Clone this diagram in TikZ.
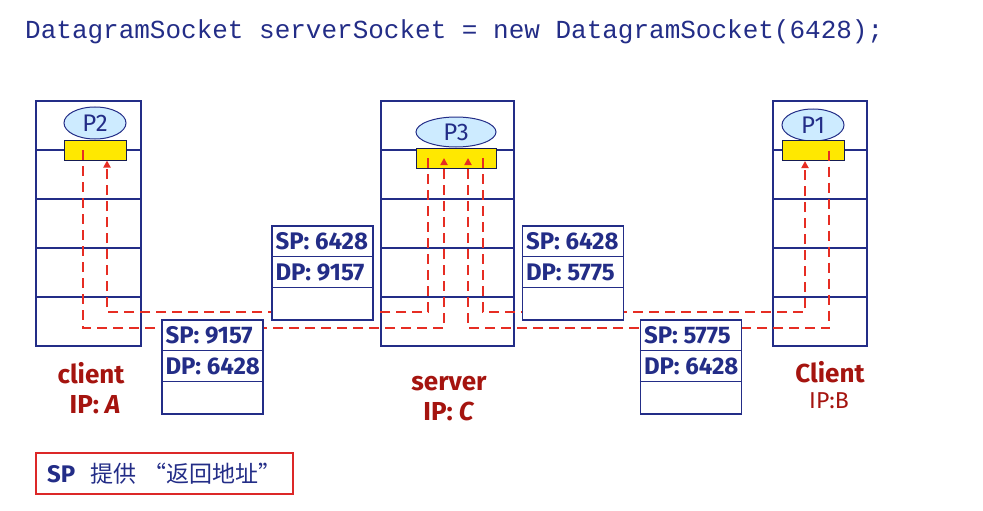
\documentclass[tikz,border=0pt]{standalone}
\usepackage{fontspec}
\setmainfont{Fira Sans}
\newfontfamily\codefont{Liberation Mono}
\newfontfamily\cjk{Noto Sans CJK SC}
\usetikzlibrary{shapes.geometric, arrows.meta, calc, positioning}
\definecolor{navy}{RGB}{35,45,135}
\definecolor{dashred}{RGB}{230,45,35}
\definecolor{labred}{RGB}{165,20,15}
\definecolor{notered}{RGB}{220,40,40}
\definecolor{sockyellow}{RGB}{255,232,0}
\definecolor{procblue}{RGB}{205,235,255}
\tikzset{
    x=1pt, y=-1pt,% one unit is one pixel of the slide, y grows downwards
    host/.style = {draw=navy, fill=white, line width=1.3pt, minimum height=245pt, inner sep=0pt}, % the protocol stack of a host
    layer/.style = {draw=navy, line width=1.3pt},
    proc/.style = {ellipse, draw=navy, fill=procblue, line width=1pt, inner sep=0pt,
                   text=navy, font=\fontsize{24}{26}\selectfont},
    sock/.style = {draw=navy!60!black, fill=sockyellow, line width=1pt, minimum height=20pt, inner sep=0pt}, % the socket below a process
    flow/.style = {dashred, line width=2pt, dash pattern=on 10pt off 6pt,
                   -{Triangle[width=7pt,length=7pt]}},
    packet/.style = {draw=navy, fill=white, line width=1.3pt, minimum width=101pt,
                     minimum height=94pt, inner sep=0pt},
    field/.style = {anchor=west, inner sep=0pt, text=navy, font=\bfseries\fontsize{24}{26}\selectfont},
    hostlabel/.style = {anchor=base, inner sep=0pt, text=labred, font=\bfseries\fontsize{26}{28}\selectfont}
}
% a segment with a header of two fields
\newcommand{\pkt}[4]{% name, centre, SP, DP
  \node[packet] (#1) at (#2) {};
  \draw[layer] ([yshift=-31pt]#1.north west) -- ([yshift=-31pt]#1.north east);
  \draw[layer] ([yshift=-62pt]#1.north west) -- ([yshift=-62pt]#1.north east);
  \node[field] at ([xshift=4pt,yshift=-16pt]#1.north west) {SP: #3};
  \node[field] at ([xshift=4pt,yshift=-47pt]#1.north west) {DP: #4};
}

\begin{document}
\begin{tikzpicture}
  \useasboundingbox (0,0) rectangle (983,511);
  \node[anchor=base west, inner sep=0pt, text=navy, font=\codefont\fontsize{26}{28}\selectfont]
    (code) at (25,39) {DatagramSocket serverSocket = new DatagramSocket(6428);};

  % hosts
  \node[host, minimum width=105pt] (hostA) at (88.5,223.5) {};
  \node[host, minimum width=133pt] (hostC) at (447.5,223.5) {};
  \node[host, minimum width=94pt] (hostB) at (820,223.5) {};
  \foreach \h in {hostA,hostC,hostB}
    \foreach \y in {150,199,248,297}
      \draw[layer] (\h.west |- 0,\y) -- (\h.east |- 0,\y);

  % processes and sockets
  \node[proc, minimum width=62pt, minimum height=32pt] (P2) at (95,123) {P2};
  \node[sock, minimum width=62pt] (sockA) at (95,150) {};
  \node[proc, minimum width=80pt, minimum height=30pt] (P3) at (456,132) {P3};
  \node[sock, minimum width=80pt] (sockC) at (456,158) {};
  \node[proc, minimum width=62pt, minimum height=32pt] (P1) at (813,125) {P1};
  \node[sock, minimum width=62pt] (sockB) at (813,150.5) {};

  % segments going back and forth
  \draw[flow] ([xshift=-12pt]sockA.center) -- ++(0,178) -| ([xshift=-12pt]sockC.center);
  \draw[flow] ([xshift=-28pt]sockC.center) -- ++(0,154) -| ([xshift=12pt]sockA.south);
  \draw[flow] ([xshift=16pt]sockB.center) -- ++(0,177.5) -| ([xshift=12pt]sockC.center);
  \draw[flow] ([xshift=27pt]sockC.center) -- ++(0,154) -| ([xshift=-8pt]sockB.south);

  \pkt{pkA}{212.5,367}{9157}{6428}
  \pkt{pkCA}{322.5,273}{6428}{9157}
  \pkt{pkCB}{573,273}{6428}{5775}
  \pkt{pkB}{691,367}{5775}{6428}

  % host names
  \node[hostlabel] (nameA) at (91,383) {client};
  \node[hostlabel] (ipA) at (95,413) {IP: \textit{A}};
  \node[hostlabel] (nameC) at (449,390) {server};
  \node[hostlabel] (ipC) at (449,420) {IP: \textit{C}};
  \node[hostlabel] (nameB) at (830,382) {Client};
  \node[hostlabel, font=\fontsize{23}{25}\selectfont] (ipB) at (829,408) {IP:B};

  % note
  \node[draw=notered, line width=1.3pt, minimum width=257pt, minimum height=41pt, inner sep=0pt]
    (note) at (164.5,473.5) {};
  \node[anchor=west, inner sep=0pt, text=navy, font=\fontsize{24}{26}\selectfont] (notetext) at (47,473.5)
    {\textbf{SP}\hspace{15pt}{\cjk\fontsize{23}{26}\selectfont 提供\hspace{7pt}“返回地址”}};
\end{tikzpicture}
\end{document}
